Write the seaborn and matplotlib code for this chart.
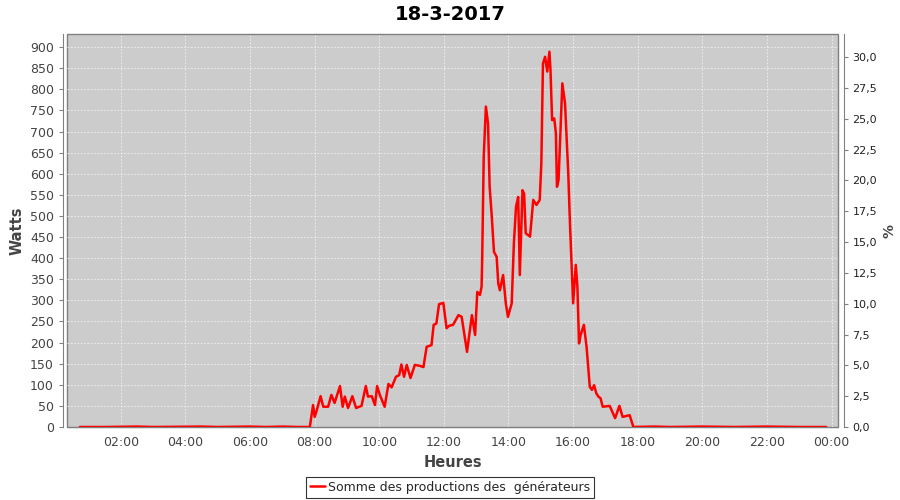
import numpy as np
import pandas as pd
import matplotlib
matplotlib.use("Agg")
import matplotlib.pyplot as plt
import matplotlib.dates as mdates
from matplotlib.ticker import FuncFormatter
import seaborn as sns

# Données (heure, puissance en W)
heures = [
    "00:44", "01:30", "02:30", "03:00", "04:30", "05:00", "06:00", "06:30",
    "07:00", "07:30", "07:51", "07:57", "08:00", "08:04", "08:11", "08:16",
    "08:25", "08:31", "08:37", "08:47", "08:52", "08:56", "09:02", "09:10",
    "09:17", "09:27", "09:35", "09:39", "09:46", "09:52", "09:56", "10:01",
    "10:10", "10:17", "10:23", "10:31", "10:37", "10:41", "10:46", "10:51",
    "10:58", "11:06", "11:15", "11:22", "11:28", "11:37", "11:41", "11:46",
    "11:51", "11:59", "12:05", "12:10", "12:17", "12:27", "12:33", "12:43",
    "12:52", "12:58", "13:02", "13:07", "13:10", "13:11", "13:14", "13:18",
    "13:22", "13:25", "13:29", "13:33", "13:38", "13:41", "13:44", "13:50",
    "13:55", "13:59", "14:06", "14:10", "14:14", "14:18", "14:21", "14:26",
    "14:29", "14:32", "14:40", "14:46", "14:52", "14:58", "15:01", "15:04",
    "15:08", "15:12", "15:16", "15:18", "15:21", "15:25", "15:28", "15:30",
    "15:33", "15:37", "15:40", "15:45", "15:51", "15:54", "15:57", "16:00",
    "16:05", "16:08", "16:11", "16:14", "16:20", "16:25", "16:31", "16:35",
    "16:39", "16:43", "16:47", "16:51", "16:55", "17:08", "17:18", "17:26",
    "17:32", "17:45", "17:52", "18:30", "19:00", "20:00", "21:00", "22:00",
    "23:00", "23:50",
]
watts = [
    0, 0, 1, 0, 1, 0, 1, 0,
    1, 0, 0, 52, 24, 40, 73, 48,
    48, 76, 57, 97, 48, 72, 45, 73,
    45, 50, 97, 72, 73, 52, 97, 76,
    48, 102, 94, 119, 123, 148, 119, 147,
    116, 147, 145, 142, 190, 194, 242, 245,
    291, 294, 234, 240, 242, 265, 261, 178,
    265, 218, 320, 313, 332, 388, 640, 759,
    719, 569, 498, 415, 403, 340, 324, 360,
    293, 261, 293, 435, 522, 545, 360, 561,
    553, 459, 451, 538, 526, 538, 625, 861,
    877, 842, 889, 846, 727, 731, 696, 569,
    585, 719, 814, 767, 601, 489, 388, 293,
    384, 332, 198, 218, 242, 190, 95, 88,
    99, 80, 72, 68, 48, 50, 21, 50,
    24, 28, 0, 1, 0, 1, 0, 1,
    0, 0,
]

titre = "18-3-2017"
serie = "Somme des productions des  générateurs"
ticks_gauche = np.arange(0, 901, 50)
ticks_droite = np.arange(0, 30.1, 2.5)

df = pd.DataFrame({
    "temps": pd.to_datetime(["2017-03-18 " + h for h in heures]),
    "watts": watts,
})

sns.set_style("white")
plt.rcParams["font.family"] = ["DejaVu Sans"]

fig = plt.figure(figsize=(9, 5), dpi=100)
ax = fig.add_axes([67 / 900, 1 - 427 / 500, (838 - 67) / 900, (427 - 34) / 500])
ax.set_facecolor("#cccccc")
ax.patch.set_edgecolor("#808080")
ax.patch.set_linewidth(1.0)

sns.lineplot(data=df, x="temps", y="watts", ax=ax, color="red",
             linewidth=1.8, label=serie, legend=False)

ax.set_xlim(pd.Timestamp("2017-03-18 00:20"), pd.Timestamp("2017-03-19 00:12"))
ax.set_ylim(0, 931)
ax.set_yticks(ticks_gauche)
ax.xaxis.set_major_locator(mdates.HourLocator(byhour=range(0, 24, 2)))
ax.xaxis.set_major_formatter(mdates.DateFormatter("%H:%M"))

# grille fine en pointillés clairs
ax.grid(True, color="#f2f2f2", linestyle=(0, (2, 2)), linewidth=0.6)
ax.set_axisbelow(True)

for s in ["top", "right"]:
    ax.spines[s].set_visible(False)
ax.spines["left"].set_position(("outward", 3))
ax.spines["left"].set_color("#808080")
ax.spines["bottom"].set_color("#808080")
ax.tick_params(axis="both", colors="#808080", labelcolor="#444444",
               labelsize=9, length=3, width=0.8, direction="out")

ax.set_xlabel("Heures", fontsize=10.5, fontweight="bold", color="#444444")
ax.set_ylabel("Watts", fontsize=10.5, fontweight="bold", color="#444444")

ax2 = ax.twinx()
ax2.set_ylim(0, 31.87)
ax2.set_yticks(ticks_droite)
ax2.yaxis.set_major_formatter(FuncFormatter(lambda v, p: f"{v:.1f}".replace(".", ",")))
for s in ["top", "left", "bottom"]:
    ax2.spines[s].set_visible(False)
ax2.spines["right"].set_position(("outward", 4))
ax2.spines["right"].set_color("#808080")
ax2.tick_params(axis="y", colors="#808080", labelcolor="#222222",
                labelsize=8, length=3, width=0.8, direction="out")
ax2.set_ylabel("%", fontsize=10, fontweight="bold", color="#444444")

fig.suptitle(titre, fontsize=14, fontweight="bold", color="black", y=0.99)

handles, labels = ax.get_legend_handles_labels()
leg = fig.legend(handles, labels, loc="lower center", bbox_to_anchor=(0.5, 0.0),
                 frameon=True, fancybox=False, edgecolor="black",
                 fontsize=9, handlelength=1.2, handletextpad=0.3,
                 borderpad=0.3, borderaxespad=0.2)
leg.get_frame().set_linewidth(0.8)

fig.savefig("out.png", dpi=100, facecolor="white")
